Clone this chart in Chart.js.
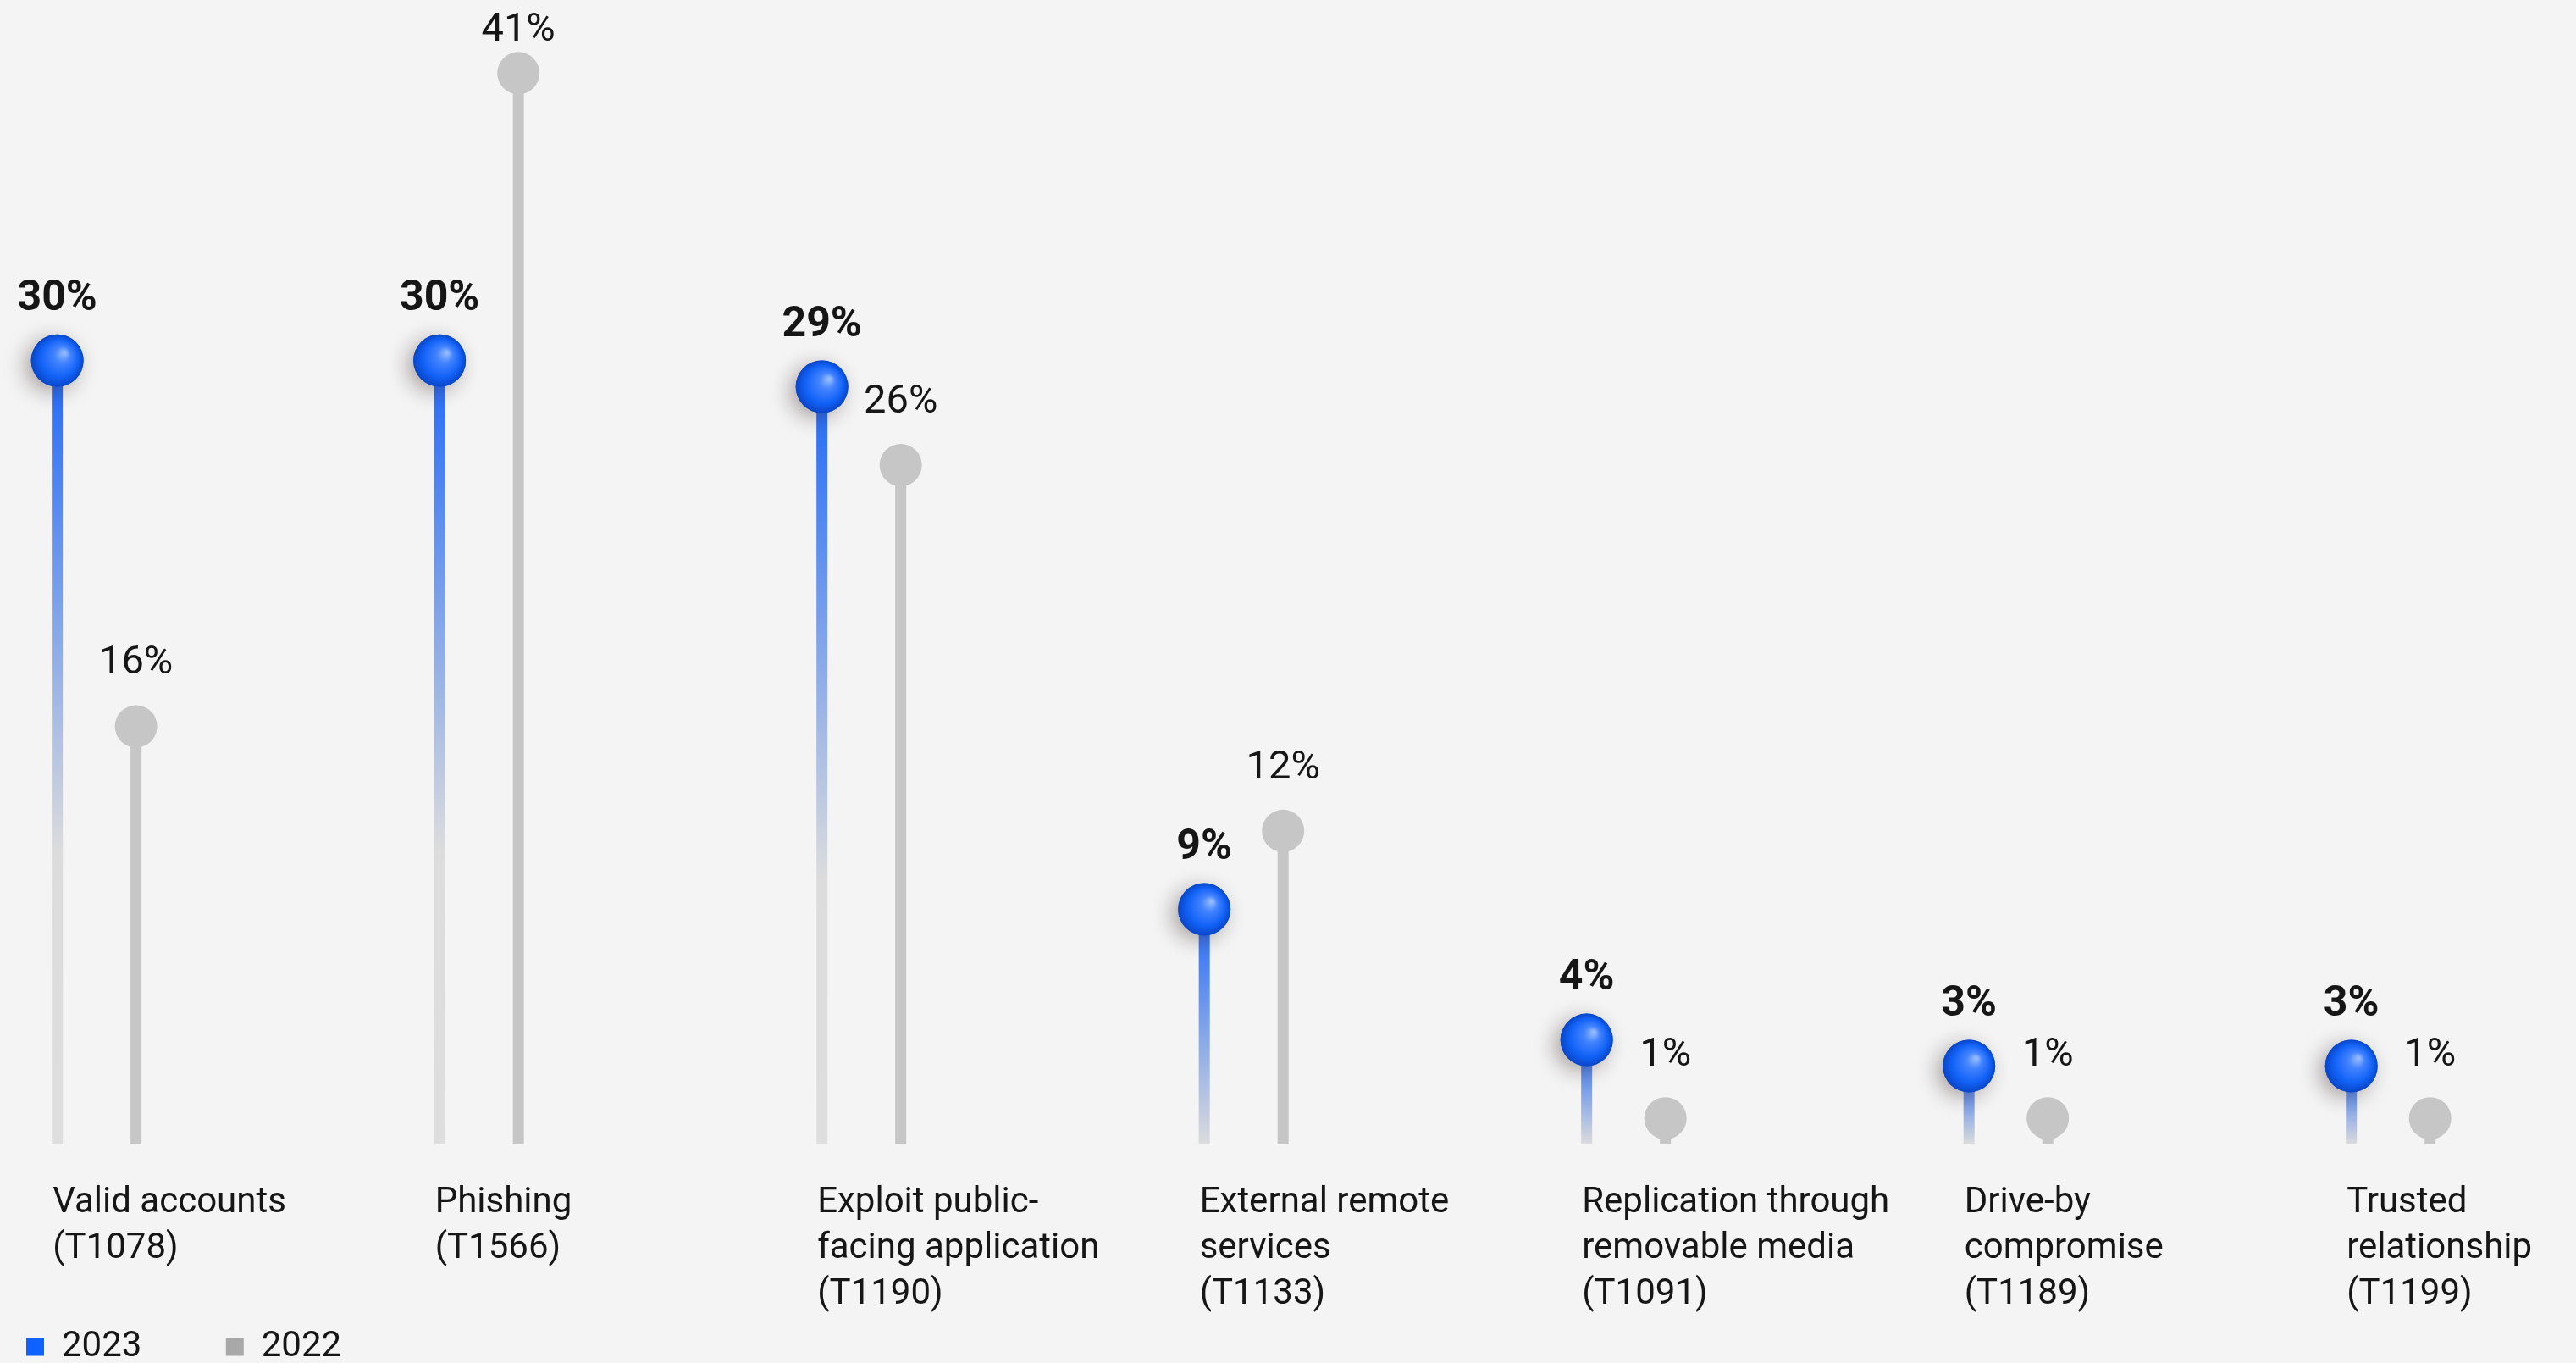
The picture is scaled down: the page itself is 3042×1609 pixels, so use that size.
<!DOCTYPE html>
<html>
<head>
<title>Top initial access vectors</title>
<script src="https://cdn.jsdelivr.net/npm/chart.js"></script>
<style>
html, body { margin: 0; padding: 0; background: #f4f4f4; }
.chart-container { position: relative; width: 3042px; height: 1609px; }
</style>
</head>
<body>
<div class="chart-container"><canvas id="vectorsChart"></canvas></div>
<script>
// data
const categories = [
  ['Valid accounts', '(T1078)'],
  ['Phishing', '(T1566)'],
  ['Exploit public-', 'facing application', '(T1190)'],
  ['External remote', 'services', '(T1133)'],
  ['Replication through', 'removable media', '(T1091)'],
  ['Drive-by', 'compromise', '(T1189)'],
  ['Trusted', 'relationship', '(T1199)']
];
const values2023 = [30, 30, 29, 9, 4, 3, 3];
const values2022 = [16, 41, 26, 12, 1, 1, 1];
const seriesNames = ['2023', '2022'];

const BLUE = '#0f62fe';
const GREY = '#c6c6c6';
const TEXT = '#161616';
const FONT = 'Roboto, "Noto Sans", sans-serif';

Chart.defaults.font.family = FONT;
Chart.defaults.color = TEXT;

// blue stem fades to light grey over at most ~580px
function stemGradient(context) {
  const chart = context.chart;
  if (!chart.chartArea || context.type !== 'data') return BLUE;
  const y = chart.scales.y;
  const top = y.getPixelForValue(context.parsed.y);
  const bottom = y.getPixelForValue(0);
  const end = Math.min(1, 580 / Math.max(1, bottom - top));
  const g = chart.ctx.createLinearGradient(0, top, 0, bottom);
  g.addColorStop(0, '#2068f8');
  g.addColorStop(end, '#dcdcdc');
  g.addColorStop(1, '#dedede');
  return g;
}

function drawSphere(ctx, x, y, r) {
  ctx.save();
  ctx.shadowColor = 'rgba(50, 30, 30, 0.38)';
  ctx.shadowBlur = 24;
  ctx.shadowOffsetX = -7;
  ctx.shadowOffsetY = 6;
  ctx.beginPath();
  ctx.arc(x, y, r, 0, Math.PI * 2);
  ctx.fillStyle = '#0f5ef5';
  ctx.fill();
  ctx.restore();
  const g = ctx.createRadialGradient(x + r * 0.28, y - r * 0.3, r * 0.04, x, y, r);
  g.addColorStop(0, '#93baff');
  g.addColorStop(0.28, '#4383ff');
  g.addColorStop(0.72, '#1161f6');
  g.addColorStop(1, '#0a45c6');
  ctx.beginPath();
  ctx.arc(x, y, r, 0, Math.PI * 2);
  ctx.fillStyle = g;
  ctx.fill();
}

const lollipops = {
  id: 'lollipops',
  afterDatasetsDraw(chart) {
    const ctx = chart.ctx;
    ctx.save();
    ctx.textAlign = 'center';
    ctx.textBaseline = 'middle';
    chart.getDatasetMeta(1).data.forEach((bar, i) => {
      ctx.beginPath();
      ctx.arc(bar.x, bar.y, 25, 0, Math.PI * 2);
      ctx.fillStyle = GREY;
      ctx.fill();
      ctx.fillStyle = TEXT;
      ctx.font = '47px ' + FONT;
      ctx.fillText(values2022[i] + '%', bar.x, Math.max(bar.y - 74, 36));
    });
    chart.getDatasetMeta(0).data.forEach((bar, i) => {
      drawSphere(ctx, bar.x, bar.y, 31);
      ctx.fillStyle = TEXT;
      ctx.font = 'bold 50px ' + FONT;
      ctx.fillText(values2023[i] + '%', bar.x, bar.y - 72);
    });
    ctx.restore();
  }
};

const ctx = document.getElementById('vectorsChart').getContext('2d');
new Chart(ctx, {
  type: 'bar',
  data: {
    datasets: [{
      label: seriesNames[0],
      data: values2023.map((v, i) => ({ x: i, y: v })),
      backgroundColor: stemGradient,
      legendColor: BLUE,
      clip: false
    }, {
      label: seriesNames[1],
      data: values2022.map((v, i) => ({ x: i, y: v })),
      backgroundColor: GREY,
      legendColor: '#a8a8a8',
      clip: false
    }]
  },
  plugins: [lollipops],
  options: {
    responsive: true,
    maintainAspectRatio: false,
    animation: false,
    datasets: {
      bar: {
        categoryPercentage: 0.412,
        barPercentage: 1,
        maxBarThickness: 13,
        borderWidth: 0
      }
    },
    layout: {
      autoPadding: false,
      padding: { left: 15, right: 0, top: 0, bottom: -12 }
    },
    scales: {
      x: {
        type: 'linear',
        offset: false,
        min: -0.2196,
        max: 6.4846,
        grid: { display: false, drawTicks: false },
        border: { display: false },
        afterFit: scale => {
          scale.height = 202;
          scale.paddingLeft = 0;
          scale.paddingRight = 0;
        },
        ticks: {
          stepSize: 1,
          includeBounds: false,
          autoSkip: false,
          maxRotation: 0,
          minRotation: 0,
          align: 'start',
          labelOffset: -52,
          padding: 42,
          color: TEXT,
          font: { size: 42, lineHeight: 1.286 },
          callback: v => categories[v] || ''
        }
      },
      y: {
        display: false,
        min: 0,
        max: 43.8
      }
    },
    plugins: {
      legend: {
        position: 'bottom',
        align: 'start',
        labels: {
          boxWidth: 21,
          boxHeight: 21,
          padding: 16,
          color: TEXT,
          font: { size: 42 },
          generateLabels: chart => chart.data.datasets.map((ds, i) => ({
            text: ds.label + (i === 0 ? '\u00a0'.repeat(8) : ''),
            fillStyle: ds.legendColor,
            strokeStyle: ds.legendColor,
            lineWidth: 0,
            fontColor: TEXT,
            hidden: !chart.isDatasetVisible(i),
            datasetIndex: i
          }))
        }
      },
      tooltip: { enabled: false }
    }
  }
});
</script>
</body>
</html>
